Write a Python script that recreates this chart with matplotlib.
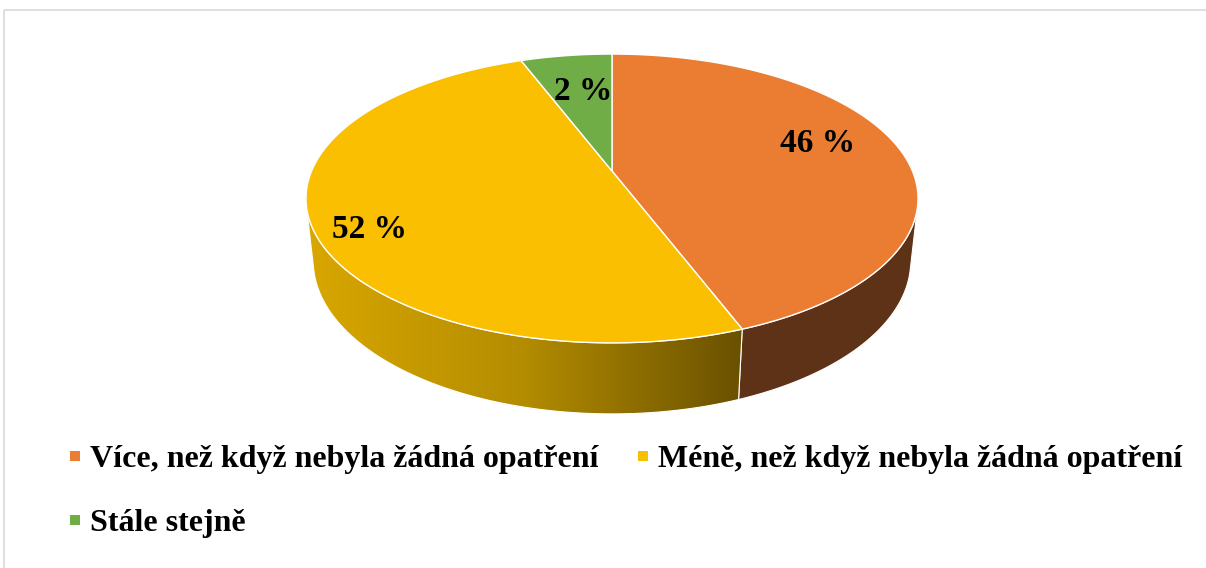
import numpy as np
import matplotlib
matplotlib.use("Agg")
import matplotlib.pyplot as plt
from matplotlib.patches import Polygon, Rectangle
from matplotlib.colors import LinearSegmentedColormap

# data
categories = ["Více, než když nebyla žádná opatření",
              "Méně, než když nebyla žádná opatření",
              "Stále stejně"]
pct_labels = [46, 52, 2]            # values printed on the slices
slice_share = [44.2, 50.0, 5.8]     # slice sizes as drawn in the picture
top_colors = ["#EA7D32", "#FABF00", "#70AD47"]
side_colors = ["#5E3216", ("#D9A700", "#6A5100"), "#3C5E26"]

plt.rcParams['font.family'] = ['Liberation Serif', 'DejaVu Serif']

fig = plt.figure(figsize=(12.06, 5.68), dpi=100)
ax = fig.add_axes([0, 0, 1, 1])
ax.set_xlim(0, 1206)
ax.set_ylim(568, 0)
ax.axis("off")

# chart border
ax.add_patch(Rectangle((3.5, 9.5), 1300, 700, fill=False, ec="#D9D9D9", lw=1.2))

# simple perspective camera for the 3d pie
cx, cy = 612, 171
alpha = np.radians(27.6)
D = 4.66
F = 1400.0
h = 0.2376


def proj(phi, z):
    x = np.cos(phi)
    y = np.sin(phi)
    depth = D + y * np.cos(alpha) - z * np.sin(alpha)
    up = y * np.sin(alpha) + z * np.cos(alpha)
    return cx + F * x / depth, cy - F * up / depth


# slice angle ranges (clockwise from 12 o'clock)
ends = 90 - np.cumsum(slice_share) * 3.6
starts = np.r_[90, ends[:-1]]

# visible side range
lim = np.degrees(np.arcsin(1 / (D * np.cos(alpha))))
vis_lo, vis_hi = -180 + lim, -lim

# sides
for i in range(len(categories)):
    a0, a1 = ends[i], starts[i]
    for shift in (0, -360, 360):
        lo = max(a0 + shift, vis_lo)
        hi = min(a1 + shift, vis_hi)
        if hi <= lo:
            continue
        ph = np.radians(np.linspace(lo, hi, 120))
        xt, yt = proj(ph, 0)
        xb, yb = proj(ph[::-1], -h)
        pts = np.column_stack([np.r_[xt, xb], np.r_[yt, yb]])
        sc = side_colors[i]
        if isinstance(sc, tuple):
            poly = Polygon(pts, closed=True, fc="none", ec="white", lw=0.8, zorder=3)
            ax.add_patch(poly)
            cmap = LinearSegmentedColormap.from_list("side", [sc[0], "#B38C00", sc[1]])
            x0, x1 = pts[:, 0].min(), pts[:, 0].max()
            y0, y1 = pts[:, 1].min(), pts[:, 1].max()
            grad = np.linspace(0, 1, 256)[None, :]
            im = ax.imshow(grad, cmap=cmap, extent=(x0, x1, y1, y0),
                           aspect="auto", zorder=2, interpolation="bilinear")
            im.set_clip_path(poly)
        else:
            ax.add_patch(Polygon(pts, closed=True, fc=sc, ec="white", lw=0.8, zorder=2))

# top face wedges
for i in range(len(categories)):
    ph = np.radians(np.linspace(starts[i], ends[i], 200))
    xt, yt = proj(ph, 0)
    pts = np.column_stack([np.r_[cx, xt], np.r_[cy, yt]])
    ax.add_patch(Polygon(pts, closed=True, fc=top_colors[i], ec="white", lw=1.0, zorder=4))

# data labels
label_pos = [(818, 144), (370, 230), (583, 91)]
for (lx, ly), v in zip(label_pos, pct_labels):
    ax.text(lx, ly, f"{v} %", fontsize=24, fontweight="bold", ha="center",
            va="center", zorder=5)

# legend
leg_pos = [(75, 456), (643, 456), (75, 520)]
for (lx, ly), name, col in zip(leg_pos, categories, top_colors):
    ax.add_patch(Rectangle((lx - 5, ly - 5), 10, 10, fc=col, ec="none"))
    ax.text(lx + 15, ly + 3, name, fontsize=23, fontweight="bold", ha="left",
            va="center")

fig.savefig("out.png", dpi=100)
